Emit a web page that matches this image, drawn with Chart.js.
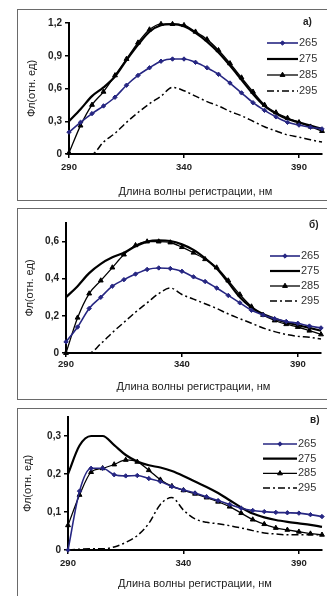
<!DOCTYPE html>
<html>
<head>
<meta charset="utf-8">
<script src="https://cdn.jsdelivr.net/npm/chart.js@4.4.0/dist/chart.umd.min.js"></script>
<style>
  body { margin: 0; background: #fff; width: 327px; height: 596px; overflow: hidden; position: relative; }
  .frame { position: absolute; left: 17px; width: 330px; border: 1.5px solid #6a6a6a; box-sizing: border-box; }
  canvas { position: absolute; left: 0; }
</style>
</head>
<body>
<div class="frame" style="top:9px;height:192px"></div>
<div class="frame" style="top:208px;height:192px"></div>
<div class="frame" style="top:408px;height:200px"></div>
<canvas id="chartA" width="327" height="191" style="top:9px"></canvas>
<canvas id="chartB" width="327" height="191" style="top:208px"></canvas>
<canvas id="chartC" width="327" height="188" style="top:408px"></canvas>
<script>
// wavelength of registration, nm
const wavelengths = [290, 295, 300, 305, 310, 315, 320, 325, 330, 335, 340, 345, 350, 355, 360, 365, 370, 375, 380, 385, 390, 395, 400];
const seriesLabels = ['265', '275', '285', '295'];

// panel а)
const a265 = [0.20, 0.29, 0.37, 0.44, 0.52, 0.63, 0.72, 0.79, 0.85, 0.87, 0.87, 0.84, 0.79, 0.73, 0.65, 0.56, 0.47, 0.40, 0.34, 0.29, 0.265, 0.245, 0.23];
const a275 = [0.30, 0.41, 0.53, 0.61, 0.71, 0.86, 1.00, 1.12, 1.18, 1.19, 1.17, 1.11, 1.03, 0.93, 0.81, 0.68, 0.55, 0.44, 0.37, 0.32, 0.29, 0.26, 0.23];
const a285 = [0.01, 0.26, 0.45, 0.57, 0.72, 0.87, 1.02, 1.14, 1.19, 1.19, 1.18, 1.12, 1.05, 0.95, 0.83, 0.70, 0.57, 0.45, 0.38, 0.33, 0.29, 0.25, 0.21];
const a295 = [0, 0, 0, 0.11, 0.19, 0.29, 0.38, 0.46, 0.53, 0.61, 0.58, 0.53, 0.48, 0.44, 0.39, 0.35, 0.30, 0.25, 0.21, 0.175, 0.155, 0.13, 0.11];

// panel б)
const b265 = [0.06, 0.14, 0.24, 0.30, 0.36, 0.395, 0.425, 0.45, 0.458, 0.455, 0.44, 0.41, 0.385, 0.35, 0.31, 0.27, 0.23, 0.205, 0.185, 0.17, 0.16, 0.145, 0.135];
const b275 = [0.30, 0.36, 0.43, 0.48, 0.515, 0.54, 0.575, 0.60, 0.607, 0.603, 0.585, 0.555, 0.51, 0.455, 0.38, 0.30, 0.245, 0.21, 0.185, 0.165, 0.15, 0.135, 0.12];
const b285 = [0.0, 0.19, 0.32, 0.39, 0.46, 0.53, 0.58, 0.60, 0.60, 0.595, 0.57, 0.54, 0.505, 0.46, 0.39, 0.315, 0.25, 0.205, 0.175, 0.155, 0.14, 0.12, 0.10];
const b295 = [0, 0, 0, 0.05, 0.11, 0.165, 0.22, 0.27, 0.32, 0.35, 0.315, 0.29, 0.265, 0.24, 0.21, 0.185, 0.16, 0.135, 0.115, 0.10, 0.09, 0.085, 0.075];

// panel в)
const c265 = [0.0, 0.155, 0.215, 0.215, 0.198, 0.195, 0.196, 0.188, 0.18, 0.167, 0.158, 0.15, 0.14, 0.13, 0.12, 0.11, 0.104, 0.101, 0.099, 0.098, 0.097, 0.093, 0.088];
const c275 = [0.20, 0.275, 0.30, 0.30, 0.276, 0.25, 0.233, 0.223, 0.217, 0.208, 0.195, 0.18, 0.166, 0.15, 0.131, 0.112, 0.096, 0.086, 0.079, 0.074, 0.07, 0.066, 0.061];
const c285 = [0.065, 0.145, 0.205, 0.215, 0.225, 0.237, 0.232, 0.21, 0.185, 0.168, 0.157, 0.148, 0.138, 0.127, 0.114, 0.097, 0.08, 0.068, 0.058, 0.053, 0.048, 0.043, 0.04];
const c295 = [0, 0.002, 0.003, 0.003, 0.008, 0.02, 0.038, 0.07, 0.12, 0.138, 0.105, 0.082, 0.073, 0.069, 0.064, 0.058, 0.051, 0.045, 0.042, 0.04, 0.04, 0.04, 0.04];

const xTicks = [290, 340, 390];
const aYTicks = [0, 0.3, 0.6, 0.9, 1.2];
const bYTicks = [0, 0.2, 0.4, 0.6];
const cYTicks = [0, 0.1, 0.2, 0.3];
const xTitle = 'Длина волны регистрации, нм';
const yTitle = 'Фл(отн. ед)';
const panelLetters = ['а)', 'б)', 'в)'];

const fam = '"Liberation Sans", Arial, sans-serif';
const blue = '#262682';

// legend drawn inside the plot, top right
const sideLegend = {
  id: 'sideLegend',
  afterDraw(chart, args, o) {
    const ctx = chart.ctx;
    ctx.save();
    chart.data.datasets.forEach((ds, i) => {
      const y = o.top + i * o.gap;
      ctx.strokeStyle = ds.borderColor;
      ctx.lineWidth = ds.borderWidth;
      ctx.setLineDash(ds.borderDash || []);
      ctx.beginPath();
      ctx.moveTo(o.x1, y);
      ctx.lineTo(o.x2, y);
      ctx.stroke();
      ctx.setLineDash([]);
      if (ds.pointRadius > 0) {
        ctx.fillStyle = ds.borderColor;
        ctx.lineWidth = 1;
        Chart.helpers.drawPoint(ctx, {pointStyle: ds.pointStyle, radius: ds.pointRadius, borderWidth: 1, rotation: 0}, (o.x1 + o.x2) / 2, y);
      }
      ctx.fillStyle = '#333';
      ctx.font = '11px ' + fam;
      ctx.textBaseline = 'middle';
      ctx.textAlign = 'left';
      ctx.fillText(ds.label, o.x2 + 1, y);
    });
    ctx.font = 'bold 10px ' + fam;
    ctx.fillStyle = '#222';
    ctx.textBaseline = 'middle';
    ctx.fillText(o.letter, o.lx, o.ly);
    ctx.restore();
  }
};

function styleOf(i) {
  if (i === 0) return {borderColor: blue, borderWidth: 1.6, pointStyle: 'rectRot', pointRadius: 2.2, pointBackgroundColor: blue, pointBorderColor: blue, pointBorderWidth: 1};
  if (i === 1) return {borderColor: '#000', borderWidth: 2.2, pointRadius: 0};
  if (i === 2) return {borderColor: '#000', borderWidth: 1.3, pointStyle: 'triangle', pointRadius: 2.8, pointBackgroundColor: '#000', pointBorderColor: '#000', pointBorderWidth: 1};
  return {borderColor: '#000', borderWidth: 1.5, borderDash: [7, 3, 2, 3], pointRadius: 0};
}

function makeChart(id, series, yMax, yTicks, p) {
  const datasets = series.map((vals, i) => Object.assign({
    label: seriesLabels[i],
    data: wavelengths.map((w, k) => ({x: w, y: vals[k]})),
    cubicInterpolationMode: 'monotone',
    clip: 6
  }, styleOf(i)));
  return new Chart(document.getElementById(id), {
    type: 'line',
    data: {datasets: datasets},
    plugins: [sideLegend],
    options: {
      responsive: false,
      animation: false,
      devicePixelRatio: 1,
      layout: {padding: {left: 0, top: p.top, right: 327 - p.right, bottom: 0}},
      plugins: {
        legend: {display: false},
        tooltip: {enabled: false},
        sideLegend: p.legend
      },
      scales: {
        x: {
          type: 'linear', min: 290, max: 400,
          afterBuildTicks: s => { s.ticks = xTicks.map(v => ({value: v})); },
          afterFit: s => { s.height = p.xHeight; },
          grid: {drawOnChartArea: false, tickLength: 4, color: '#000', lineWidth: 1.5},
          border: {color: '#000', width: 2},
          ticks: {color: '#222', maxRotation: 0, padding: p.xPad, font: {size: 9.5, weight: 'bold', family: fam}},
          title: {display: true, text: xTitle, color: '#222', font: {size: 11, family: fam}, padding: {top: 0, bottom: p.xTitlePad}}
        },
        y: {
          min: 0, max: yMax,
          afterBuildTicks: s => { s.ticks = yTicks.map(v => ({value: v})); },
          afterFit: s => { s.width = p.left; },
          grid: {drawOnChartArea: false, tickLength: 4, color: '#000', lineWidth: 1.5},
          border: {color: '#000', width: 2},
          ticks: {color: '#222', padding: 3, font: {size: 10, weight: 'bold', family: fam},
                  callback: v => String(v).replace('.', ',')},
          title: {display: true, text: yTitle, color: '#222', font: {size: 11, family: fam}, padding: {top: p.yTitlePad, bottom: 0}}
        }
      }
    }
  });
}

makeChart('chartA', [a265, a275, a285, a295], 1.2, aYTicks, {
  left: 69, right: 322, top: 14, xHeight: 46, xPad: 4, xTitlePad: 1.6, yTitlePad: 25,
  legend: {x1: 267, x2: 298, top: 34, gap: 16, letter: panelLetters[0], lx: 303, ly: 13}
});
makeChart('chartB', [b265, b275, b285, b295], 0.7, bYTicks, {
  left: 66, right: 321, top: 15, xHeight: 46, xPad: 2, xTitlePad: 5.6, yTitlePad: 23,
  legend: {x1: 270, x2: 300, top: 48, gap: 15, letter: panelLetters[1], lx: 309, ly: 17}
});
makeChart('chartC', [c265, c275, c285, c295], 0.35, cYTicks, {
  left: 68, right: 324, top: 8, xHeight: 46, xPad: 4, xTitlePad: 5.6, yTitlePad: 21,
  legend: {x1: 263, x2: 297, top: 36, gap: 14.7, letter: panelLetters[2], lx: 310, ly: 12}
});
</script>
</body>
</html>
